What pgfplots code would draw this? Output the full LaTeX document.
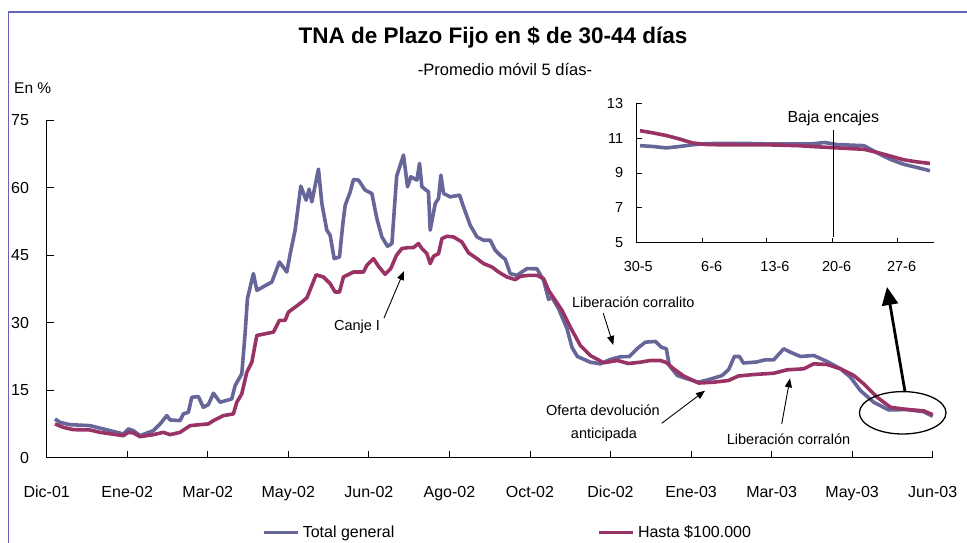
\documentclass[border=0pt]{standalone}
\usepackage{pgfplots}
\pgfplotsset{compat=1.18}
\usepackage{fontspec}
\setmainfont{Liberation Sans}
\usetikzlibrary{arrows.meta}
\definecolor{serieblue}{RGB}{102,102,153}
\definecolor{seriered}{RGB}{153,51,102}
\definecolor{frameblue}{RGB}{100,100,190}
\begin{document}
\begin{tikzpicture}[x=1pt,y=1pt]
\path[use as bounding box] (0,0) rectangle (967,543);
\draw[frameblue, line width=1.6pt] (8.3,-5) -- (8.3,531) -- (975,531);
\node[font=\fontsize{22.5}{26}\selectfont\bfseries] at (493,506) {TNA de Plazo Fijo en \$ de 30-44 días};
\node[font=\fontsize{16.5}{20}\selectfont] at (505,473) {-Promedio móvil 5 días-};
\node[font=\fontsize{15.5}{18}\selectfont, anchor=west, inner sep=0pt] at (14,455) {En \%};

\begin{axis}[
  at={(46.7pt,85.3pt)}, anchor=south west,
  width=886pt, height=337.7pt, scale only axis,
  xmin=0, xmax=11, ymin=0, ymax=75,
  axis x line*=bottom, axis y line*=left,
  xtick={0,...,11},
  xticklabels={Dic-01,Ene-02,Mar-02,May-02,Jun-02,Ago-02,Oct-02,Dic-02,Ene-03,Mar-03,May-03,Jun-03},
  ytick={0,15,30,45,60,75},
  tick align=inside, major tick length=7pt,
  tick style={black, line width=0.8pt},
  axis line style={black, line width=0.8pt},
  /pgf/number format/assume math mode=true,
  tick label style={font=\fontsize{16}{19}\selectfont},
  yticklabel style={anchor=east, inner sep=0pt, xshift=-17.5pt},
  xticklabel style={anchor=base, inner sep=0pt, yshift=-40pt},
  legend columns=2,
  legend style={draw=none, fill=none, at={(0.243,-0.222)}, anchor=west, inner sep=0pt,
    font=\fontsize{16}{19}\selectfont,
    /tikz/every even column/.append style={column sep=200pt},
    nodes={inner sep=3pt}},
  legend image code/.code={\draw[#1, line width=3.6pt] (0pt,0pt) -- (34pt,0pt);},
  clip=false,
]
\addplot[serieblue, line width=3.6pt, line join=round] coordinates {
(0.103,8.61) (0.165,7.86) (0.248,7.50) (0.289,7.34) (0.538,7.12) (0.786,6.01) (0.952,5.27) (1.014,6.39)
(1.076,6.01) (1.159,4.90) (1.324,6.01) (1.408,7.50) (1.491,9.35) (1.532,8.39) (1.656,8.23) (1.697,9.73)
(1.759,10.08) (1.801,13.42) (1.883,13.58) (1.945,11.19) (2.007,11.80) (2.070,14.31) (2.153,12.31) (2.298,13.06)
(2.339,16.02) (2.422,18.63) (2.463,27.53) (2.492,35.32) (2.566,40.88) (2.609,37.17) (2.795,39.01) (2.889,43.46)
(2.981,41.24) (3.022,45.18) (3.084,50.52) (3.155,60.31) (3.221,57.20) (3.258,59.64) (3.292,56.82) (3.374,64.09)
(3.416,56.46) (3.478,50.52) (3.519,49.41) (3.569,44.22) (3.635,44.58) (3.677,52.01) (3.706,56.08) (3.768,59.04)
(3.809,61.80) (3.871,61.65) (3.954,59.42) (4.037,58.69) (4.099,53.12) (4.161,49.03) (4.231,46.96) (4.286,47.56)
(4.345,62.54) (4.430,67.21) (4.480,60.16) (4.522,62.38) (4.596,61.65) (4.629,65.36) (4.658,60.16) (4.740,59.04)
(4.761,50.52) (4.824,56.46) (4.865,57.57) (4.894,62.76) (4.927,58.69) (5.010,57.93) (5.126,58.31) (5.175,55.70)
(5.258,51.63) (5.342,49.03) (5.424,48.29) (5.507,48.29) (5.569,46.07) (5.631,44.96) (5.693,44.06) (5.755,40.88)
(5.839,40.50) (5.963,42.00) (6.087,41.95) (6.169,39.39) (6.231,35.16) (6.273,35.61) (6.355,33.09) (6.460,28.64)
(6.522,24.48) (6.588,22.48) (6.749,21.21) (6.873,20.85) (6.997,21.81) (7.122,22.41) (7.234,22.48) (7.333,24.26)
(7.433,25.66) (7.557,25.82) (7.631,24.55) (7.693,24.19) (7.730,20.47) (7.830,18.25) (7.954,17.51) (8.091,16.76)
(8.252,17.51) (8.385,18.25) (8.467,19.58) (8.538,22.48) (8.600,22.48) (8.650,21.03) (8.811,21.25) (8.923,21.74)
(9.026,21.74) (9.150,24.19) (9.233,23.43) (9.358,22.48) (9.523,22.70) (9.689,21.36) (9.855,19.74) (9.979,17.87)
(10.103,14.91) (10.268,12.31) (10.455,10.60) (10.683,10.70) (10.889,10.20) (11.000,9.20)
};
\addlegendentry{Total general}
\addplot[seriered, line width=3.6pt, line join=round] coordinates {
(0.103,7.50) (0.206,6.74) (0.330,6.23) (0.538,6.16) (0.662,5.63) (0.952,4.90) (1.014,5.63) (1.076,5.50)
(1.159,4.67) (1.324,5.12) (1.448,5.63) (1.532,5.12) (1.656,5.63) (1.780,7.12) (1.904,7.34) (2.007,7.50)
(2.070,8.23) (2.194,9.35) (2.318,9.73) (2.360,12.31) (2.422,14.18) (2.484,18.98) (2.547,21.21) (2.609,27.15)
(2.815,27.89) (2.889,30.49) (2.960,30.49) (3.001,32.34) (3.147,34.27) (3.230,35.50) (3.345,40.62) (3.436,40.13)
(3.519,38.66) (3.581,36.79) (3.635,36.79) (3.684,40.13) (3.809,41.24) (3.933,41.24) (3.975,42.73) (4.057,44.22)
(4.119,42.51) (4.202,40.73) (4.271,42.00) (4.343,44.96) (4.410,46.45) (4.492,46.67) (4.554,46.67) (4.616,47.56)
(4.658,46.45) (4.720,45.33) (4.761,43.11) (4.802,44.73) (4.865,45.33) (4.907,48.67) (4.969,49.18) (5.051,49.03)
(5.155,47.91) (5.237,45.51) (5.342,44.22) (5.424,43.11) (5.528,42.35) (5.610,41.24) (5.714,40.13) (5.817,39.55)
(5.880,40.28) (5.983,40.50) (6.087,40.50) (6.169,39.77) (6.231,37.17) (6.273,36.05) (6.398,32.71) (6.501,29.00)
(6.625,24.93) (6.749,22.70) (6.914,21.08) (7.085,21.59) (7.221,20.92) (7.370,21.21) (7.494,21.59) (7.619,21.59)
(7.693,21.14) (7.784,19.74) (7.908,18.14) (8.094,16.58) (8.281,16.76) (8.463,17.14) (8.587,18.14) (8.777,18.47)
(9.026,18.76) (9.193,19.52) (9.399,19.74) (9.523,20.85) (9.689,20.70) (9.855,19.74) (10.020,18.25) (10.144,16.40)
(10.311,13.42) (10.476,11.19) (10.683,10.70) (10.889,10.40) (11.000,9.55)
};
\addlegendentry{Hasta \$100.000}
\end{axis}

\begin{axis}[
  at={(636.7pt,300.3pt)}, anchor=south west,
  width=297.6pt, height=139.4pt, scale only axis,
  xmin=-0.25, xmax=22.33, ymin=5, ymax=13,
  axis x line*=bottom, axis y line*=left,
  xtick={4.73,9.6,14.6,19.5}, xticklabels={},
  extra x ticks={-0.13,5.44,10.24,14.92,19.85},
  extra x tick labels={30-5,6-6,13-6,20-6,27-6},
  extra x tick style={major tick length=0pt},
  ytick={5,7,9,11,13},
  tick align=inside, major tick length=5pt,
  tick style={black, line width=0.8pt},
  axis line style={black, line width=0.8pt},
  /pgf/number format/assume math mode=true,
  tick label style={font=\fontsize{14.5}{17}\selectfont},
  yticklabel style={anchor=east, inner sep=0pt, xshift=-13.4pt},
  xticklabel style={anchor=base, inner sep=0pt, yshift=-28.8pt},
  clip=false,
]
\addplot[serieblue, line width=3.6pt, line join=round] coordinates {
(0,10.57) (1,10.52) (2,10.44) (3,10.52) (4,10.62) (5,10.68) (6,10.70) (7,10.70) (8,10.70) (9,10.68)
(10,10.67) (11,10.67) (12,10.67) (13,10.67) (14,10.75) (15,10.63) (16,10.60) (17,10.57) (18,10.15)
(19,9.78) (20,9.50) (21,9.32) (22,9.13)
};
\addplot[seriered, line width=3.6pt, line join=round] coordinates {
(0,11.43) (1,11.30) (2,11.15) (3,10.95) (4,10.72) (5,10.64) (6,10.62) (7,10.62) (8,10.61) (9,10.61)
(10,10.61) (11,10.59) (12,10.57) (13,10.52) (14,10.48) (15,10.44) (16,10.40) (17,10.36) (18,10.18)
(19,9.97) (20,9.76) (21,9.64) (22,9.55)
};
\draw[black, line width=1pt] (axis cs:14.67,5.34) -- (axis cs:14.67,11.47);
\node[font=\fontsize{16}{19}\selectfont] at (axis cs:14.67,12.14) {Baja encajes};
\end{axis}

% annotations
\node[font=\fontsize{14.5}{17}\selectfont] at (357,216) {Canje I};
\draw[line width=0.9pt, -{Triangle[length=9pt,width=7pt]}] (384,225) -- (404,272);
\node[font=\fontsize{14.5}{17}\selectfont] at (633.3,241) {Liberación corralito};
\draw[line width=0.9pt, -{Triangle[length=9pt,width=7pt]}] (603.3,229.7) -- (613.3,198);
\node[font=\fontsize{14.5}{17}\selectfont] at (603,133) {Oferta devolución};
\node[font=\fontsize{14.5}{17}\selectfont] at (604,108) {anticipada};
\draw[line width=0.9pt, -{Triangle[length=9pt,width=7pt]}] (661.7,119.7) -- (705,152.3);
\node[font=\fontsize{14.5}{17}\selectfont] at (788.5,104) {Liberación corralón};
\draw[line width=0.9pt, -{Triangle[length=9pt,width=7pt]}] (781.7,119) -- (790,164.7);
\draw[line width=1.3pt] (902.7,130.2) ellipse [x radius=43.3, y radius=21.2];
\draw[line width=2.8pt, -{Triangle[length=18pt,width=16pt]}] (905,151.4) -- (887,256);
\end{tikzpicture}
\end{document}
